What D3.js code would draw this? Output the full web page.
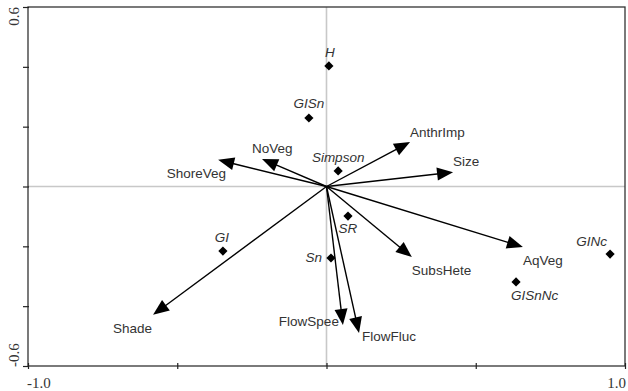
<!DOCTYPE html>
<html><head><meta charset="utf-8">
<script src="https://cdn.jsdelivr.net/npm/d3@7"></script>
<style>html,body{margin:0;padding:0;background:#fff;}svg{display:block;}</style>
</head><body>
<svg id="chart" width="628" height="391"></svg>
<script>
// ---- data ----
const arrowNames = ["AnthrImp","Size","AqVeg","SubsHete","ShoreVeg","NoVeg","Shade","FlowSpee","FlowFluc"];
const arrowX = [0.280, 0.424, 0.658, 0.286, -0.363, -0.216, -0.581, 0.055, 0.109];
const arrowY = [0.149, 0.048, -0.202, -0.236, 0.089, 0.092, -0.429, -0.463, -0.490];

const pointNames = ["H","GISn","Simpson","SR","Sn","GI","GINc","GISnNc"];
const pointX = [0.008, -0.059, 0.039, 0.072, 0.015, -0.347, 0.950, 0.635];
const pointY = [0.403, 0.229, 0.052, -0.099, -0.239, -0.216, -0.226, -0.319];

const xTickLabels = ["-1.0","1.0"];
const yTickLabels = ["-0.6","0.6"];
const xTickValues = [-1, -0.5, 0, 0.5, 1];
const yTickValues = [-0.6, -0.4, -0.2, 0, 0.2, 0.4, 0.6];

// ---- layout ----
const svg = d3.select("#chart");
const L = 28, R = 625, T = 7, B = 366;
const x = d3.scaleLinear().domain([-1, 1]).range([L, R]);
const y = d3.scaleLinear().domain([-0.6, 0.6]).range([B, T]);

// label placement (styling)
const arrowLab = {
  AnthrImp:{a:"start",dx:0,dy:-5}, Size:{a:"start",dx:0,dy:-6},
  AqVeg:{a:"start",dx:0,dy:18}, SubsHete:{a:"start",dx:0,dy:18},
  ShoreVeg:{a:"end",dx:8,dy:18}, NoVeg:{a:"start",dx:-10,dy:-6},
  Shade:{a:"end",dx:-1,dy:18}, FlowSpee:{a:"end",dx:-4,dy:1},
  FlowFluc:{a:"start",dx:3,dy:8}
};
const pointLab = {
  H:{a:"middle",dx:1,dy:-9}, GISn:{a:"middle",dx:0,dy:-10},
  Simpson:{a:"middle",dx:0,dy:-9}, SR:{a:"middle",dx:0,dy:17},
  Sn:{a:"end",dx:-9,dy:4}, GI:{a:"middle",dx:-1,dy:-9},
  GINc:{a:"end",dx:-3,dy:-8}, GISnNc:{a:"start",dx:-5,dy:18}
};

// zero lines
svg.append("line").attr("x1", x(0)).attr("x2", x(0)).attr("y1", T).attr("y2", B)
  .attr("stroke", "#c8c8c8").attr("stroke-width", 1.6);
svg.append("line").attr("x1", L).attr("x2", R).attr("y1", y(0)).attr("y2", y(0))
  .attr("stroke", "#c8c8c8").attr("stroke-width", 1.6);

// frame
svg.append("rect").attr("x", L).attr("y", T).attr("width", R - L).attr("height", B - T)
  .attr("fill", "none").attr("stroke", "#333").attr("stroke-width", 1.3);

// ticks
const xAxis = d3.axisBottom(x).tickValues(xTickValues).tickSize(6).tickFormat("");
const gx = svg.append("g").attr("transform", `translate(0,${B - 3})`).call(xAxis);
gx.select(".domain").remove();
gx.selectAll("line").attr("stroke", "#222").attr("stroke-width", 1.2);
const yAxis = d3.axisLeft(y).tickValues(yTickValues).tickSize(6).tickFormat("");
const gy = svg.append("g").attr("transform", `translate(${L + 1},0)`).call(yAxis);
gy.select(".domain").remove();
gy.selectAll("line").attr("stroke", "#222").attr("stroke-width", 1.2);

// tick labels
const serif = "'Liberation Serif','DejaVu Serif',serif";
svg.append("text").attr("x", L - 1).attr("y", 388).attr("font-family", serif)
  .attr("font-size", 15).attr("fill", "#333").text(xTickLabels[0]);
svg.append("text").attr("x", R + 1).attr("y", 388).attr("text-anchor", "end").attr("font-family", serif)
  .attr("font-size", 15).attr("fill", "#333").text(xTickLabels[1]);
svg.append("text").attr("transform", `translate(19,${B + 1}) rotate(-90)`).attr("font-family", serif)
  .attr("font-size", 15).attr("fill", "#333").text(yTickLabels[0]);
svg.append("text").attr("transform", `translate(19,${T}) rotate(-90)`).attr("text-anchor", "end")
  .attr("font-family", serif).attr("font-size", 15).attr("fill", "#333").text(yTickLabels[1]);

const sans = "'Liberation Sans',Arial,sans-serif";

// arrows
const arrows = arrowNames.map((n, i) => ({name: n, vx: arrowX[i], vy: arrowY[i]}));
const ga = svg.append("g");
arrows.forEach(d => {
  const x0 = x(0), y0 = y(0), x1 = x(d.vx), y1 = y(d.vy);
  const dxp = x1 - x0, dyp = y1 - y0, len = Math.hypot(dxp, dyp);
  const ux = dxp / len, uy = dyp / len, hl = 16, hw = 6.5;
  const bx = x1 - ux * hl, by = y1 - uy * hl;
  ga.append("line").attr("x1", x0).attr("y1", y0).attr("x2", bx + ux * 2).attr("y2", by + uy * 2)
    .attr("stroke", "#000").attr("stroke-width", 1.4);
  ga.append("path").attr("d", `M${x1},${y1}L${bx - uy * hw},${by + ux * hw}L${bx + uy * hw},${by - ux * hw}Z`)
    .attr("fill", "#000");
  const lp = arrowLab[d.name];
  ga.append("text").attr("x", x1 + lp.dx).attr("y", y1 + lp.dy).attr("text-anchor", lp.a)
    .attr("font-family", sans).attr("font-size", 13.5).attr("fill", "#333").text(d.name);
});

// points
const pts = pointNames.map((n, i) => ({name: n, vx: pointX[i], vy: pointY[i]}));
const gp = svg.append("g");
pts.forEach(d => {
  const px = x(d.vx), py = y(d.vy), r = 4.6;
  gp.append("path").attr("d", `M${px},${py - r}L${px + r},${py}L${px},${py + r}L${px - r},${py}Z`).attr("fill", "#000");
  const lp = pointLab[d.name];
  gp.append("text").attr("x", px + lp.dx).attr("y", py + lp.dy).attr("text-anchor", lp.a)
    .attr("font-family", sans).attr("font-style", "italic").attr("font-size", 13.5).attr("fill", "#333").text(d.name);
});
</script>
</body></html>
